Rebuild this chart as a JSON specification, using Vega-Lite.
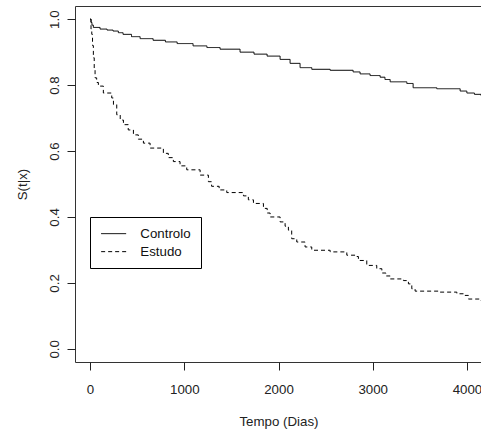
{
  "$schema": "https://vega.github.io/schema/vega-lite/v6.json",
  "width": 407,
  "height": 356,
  "autosize": {"type": "none"},
  "padding": {"left": 75, "top": 6, "right": 0, "bottom": 70},
  "background": "white",
  "config": {
    "font": "Liberation Sans",
    "view": {"stroke": "#333", "strokeWidth": 1},
    "axis": {
      "grid": false,
      "domain": false,
      "tickColor": "#222",
      "tickSize": 8,
      "labelFont": "Liberation Sans",
      "labelFontSize": 13.3,
      "labelColor": "#222",
      "titleFont": "Liberation Sans",
      "titleFontSize": 13.3,
      "titleFontWeight": "normal",
      "titleColor": "#222"
    }
  },
  "datasets": {
    "km": [
      {"grupo": "Controlo", "t": 0, "s": 1.0},
      {"grupo": "Controlo", "t": 10, "s": 0.99},
      {"grupo": "Controlo", "t": 20, "s": 0.982},
      {"grupo": "Controlo", "t": 35, "s": 0.975},
      {"grupo": "Controlo", "t": 106, "s": 0.970},
      {"grupo": "Controlo", "t": 180, "s": 0.967},
      {"grupo": "Controlo", "t": 244, "s": 0.964},
      {"grupo": "Controlo", "t": 300, "s": 0.959},
      {"grupo": "Controlo", "t": 350, "s": 0.954},
      {"grupo": "Controlo", "t": 440, "s": 0.947},
      {"grupo": "Controlo", "t": 531, "s": 0.941},
      {"grupo": "Controlo", "t": 669, "s": 0.936},
      {"grupo": "Controlo", "t": 800, "s": 0.931},
      {"grupo": "Controlo", "t": 924, "s": 0.926},
      {"grupo": "Controlo", "t": 1093, "s": 0.919},
      {"grupo": "Controlo", "t": 1240, "s": 0.914},
      {"grupo": "Controlo", "t": 1380, "s": 0.909},
      {"grupo": "Controlo", "t": 1592, "s": 0.900},
      {"grupo": "Controlo", "t": 1740, "s": 0.894},
      {"grupo": "Controlo", "t": 1879, "s": 0.888},
      {"grupo": "Controlo", "t": 2017, "s": 0.878},
      {"grupo": "Controlo", "t": 2123, "s": 0.866},
      {"grupo": "Controlo", "t": 2229, "s": 0.853},
      {"grupo": "Controlo", "t": 2353, "s": 0.848},
      {"grupo": "Controlo", "t": 2548, "s": 0.845},
      {"grupo": "Controlo", "t": 2792, "s": 0.840},
      {"grupo": "Controlo", "t": 2866, "s": 0.834},
      {"grupo": "Controlo", "t": 2972, "s": 0.829},
      {"grupo": "Controlo", "t": 3079, "s": 0.824},
      {"grupo": "Controlo", "t": 3130, "s": 0.817},
      {"grupo": "Controlo", "t": 3185, "s": 0.810},
      {"grupo": "Controlo", "t": 3362, "s": 0.805},
      {"grupo": "Controlo", "t": 3429, "s": 0.792},
      {"grupo": "Controlo", "t": 3680, "s": 0.789},
      {"grupo": "Controlo", "t": 3928, "s": 0.782},
      {"grupo": "Controlo", "t": 3999, "s": 0.776},
      {"grupo": "Controlo", "t": 4080, "s": 0.772},
      {"grupo": "Controlo", "t": 4150, "s": 0.768},
      {"grupo": "Estudo", "t": 0, "s": 1.0},
      {"grupo": "Estudo", "t": 10, "s": 0.97},
      {"grupo": "Estudo", "t": 18, "s": 0.954},
      {"grupo": "Estudo", "t": 26, "s": 0.92},
      {"grupo": "Estudo", "t": 35, "s": 0.883},
      {"grupo": "Estudo", "t": 44, "s": 0.85},
      {"grupo": "Estudo", "t": 53, "s": 0.822},
      {"grupo": "Estudo", "t": 70, "s": 0.808},
      {"grupo": "Estudo", "t": 88, "s": 0.797},
      {"grupo": "Estudo", "t": 141, "s": 0.776},
      {"grupo": "Estudo", "t": 230, "s": 0.761},
      {"grupo": "Estudo", "t": 248, "s": 0.741},
      {"grupo": "Estudo", "t": 283, "s": 0.710},
      {"grupo": "Estudo", "t": 320, "s": 0.694},
      {"grupo": "Estudo", "t": 354, "s": 0.680},
      {"grupo": "Estudo", "t": 405, "s": 0.664},
      {"grupo": "Estudo", "t": 460, "s": 0.649},
      {"grupo": "Estudo", "t": 512, "s": 0.636},
      {"grupo": "Estudo", "t": 566, "s": 0.624},
      {"grupo": "Estudo", "t": 637, "s": 0.609},
      {"grupo": "Estudo", "t": 778, "s": 0.593},
      {"grupo": "Estudo", "t": 830, "s": 0.580},
      {"grupo": "Estudo", "t": 884, "s": 0.568},
      {"grupo": "Estudo", "t": 955, "s": 0.555},
      {"grupo": "Estudo", "t": 1026, "s": 0.543},
      {"grupo": "Estudo", "t": 1168, "s": 0.527},
      {"grupo": "Estudo", "t": 1256, "s": 0.507},
      {"grupo": "Estudo", "t": 1290, "s": 0.493},
      {"grupo": "Estudo", "t": 1370, "s": 0.482},
      {"grupo": "Estudo", "t": 1451, "s": 0.474},
      {"grupo": "Estudo", "t": 1628, "s": 0.464},
      {"grupo": "Estudo", "t": 1680, "s": 0.452},
      {"grupo": "Estudo", "t": 1734, "s": 0.441},
      {"grupo": "Estudo", "t": 1840, "s": 0.426},
      {"grupo": "Estudo", "t": 1880, "s": 0.412},
      {"grupo": "Estudo", "t": 1911, "s": 0.400},
      {"grupo": "Estudo", "t": 2017, "s": 0.385},
      {"grupo": "Estudo", "t": 2070, "s": 0.372},
      {"grupo": "Estudo", "t": 2105, "s": 0.360},
      {"grupo": "Estudo", "t": 2140, "s": 0.334},
      {"grupo": "Estudo", "t": 2194, "s": 0.324},
      {"grupo": "Estudo", "t": 2282, "s": 0.309},
      {"grupo": "Estudo", "t": 2353, "s": 0.299},
      {"grupo": "Estudo", "t": 2548, "s": 0.294},
      {"grupo": "Estudo", "t": 2725, "s": 0.284},
      {"grupo": "Estudo", "t": 2813, "s": 0.280},
      {"grupo": "Estudo", "t": 2848, "s": 0.268},
      {"grupo": "Estudo", "t": 2937, "s": 0.253},
      {"grupo": "Estudo", "t": 3043, "s": 0.243},
      {"grupo": "Estudo", "t": 3097, "s": 0.230},
      {"grupo": "Estudo", "t": 3140, "s": 0.221},
      {"grupo": "Estudo", "t": 3185, "s": 0.212},
      {"grupo": "Estudo", "t": 3326, "s": 0.207},
      {"grupo": "Estudo", "t": 3379, "s": 0.197},
      {"grupo": "Estudo", "t": 3415, "s": 0.182},
      {"grupo": "Estudo", "t": 3450, "s": 0.175},
      {"grupo": "Estudo", "t": 3715, "s": 0.172},
      {"grupo": "Estudo", "t": 3893, "s": 0.167},
      {"grupo": "Estudo", "t": 3963, "s": 0.162},
      {"grupo": "Estudo", "t": 4016, "s": 0.151},
      {"grupo": "Estudo", "t": 4150, "s": 0.146}
    ]
  },
  "data": {"name": "km"},
  "mark": {"type": "line", "interpolate": "step-after", "color": "black", "strokeWidth": 1, "clip": true},
  "encoding": {
    "x": {
      "field": "t",
      "type": "quantitative",
      "scale": {"domain": [-160, 4160], "nice": false, "zero": false},
      "axis": {
        "values": [0, 1000, 2000, 3000, 4000],
        "format": "d",
        "title": "Tempo (Dias)",
        "labelPadding": 12,
        "titlePadding": 19
      }
    },
    "y": {
      "field": "s",
      "type": "quantitative",
      "scale": {"domain": [-0.04, 1.04], "nice": false, "zero": false},
      "axis": {
        "values": [0, 0.2, 0.4, 0.6, 0.8, 1.0],
        "format": ".1f",
        "title": "S(t|x)",
        "labelAngle": 270,
        "labelAlign": "center",
        "labelBaseline": "bottom",
        "labelPadding": 6,
        "titlePadding": 18
      }
    },
    "strokeDash": {
      "field": "grupo",
      "type": "nominal",
      "scale": {"domain": ["Controlo", "Estudo"], "range": [[1, 0], [4, 3]]},
      "legend": {
        "title": null,
        "orient": "none",
        "legendX": 15,
        "legendY": 211,
        "direction": "vertical",
        "strokeColor": "black",
        "fillColor": "white",
        "padding": 10,
        "symbolOffset": 7,
        "symbolType": "M-2.5,0H2.5",
        "symbolSize": 100,
        "symbolStrokeWidth": 1,
        "symbolStrokeColor": "black",
        "labelFontSize": 13.3,
        "labelFont": "Liberation Sans",
        "labelColor": "#111",
        "labelOffset": 20,
        "rowPadding": 4
      }
    }
  }
}
